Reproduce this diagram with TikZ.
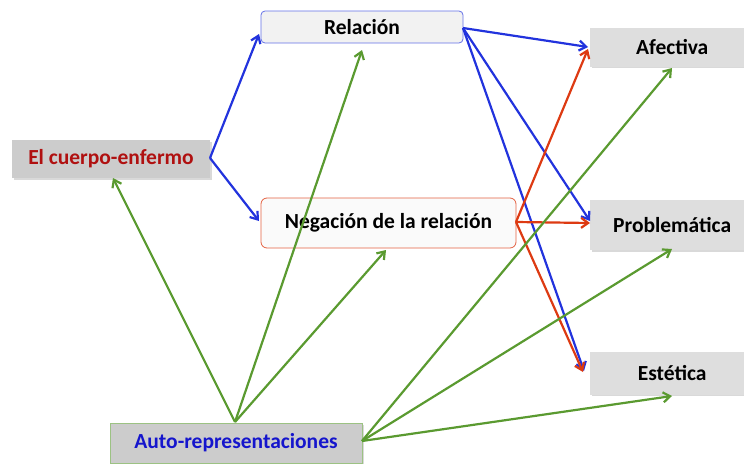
\documentclass[tikz,border=0pt]{standalone}
\usepackage{fontspec}
\setmainfont{Carlito}
\usetikzlibrary{arrows.meta,shadows}
\definecolor{bl}{HTML}{2233DD}
\definecolor{rd}{HTML}{DD3A12}
\definecolor{gr}{HTML}{5A9A30}
\definecolor{dred}{HTML}{B01010}
\definecolor{dblue}{HTML}{1515CC}
\tikzset{
  box/.style={minimum height=#1, inner sep=0pt, font=\fontsize{21.5}{24}\selectfont\bfseries},
  graybox/.style={fill=black!20, draw=none, drop shadow={shadow xshift=1.5pt,shadow yshift=-1.5pt,opacity=0.3}},
  lightbox/.style={fill=black!13, draw=none, drop shadow={shadow xshift=1.5pt,shadow yshift=-1.5pt,opacity=0.3}},
  arr/.style={-{Straight Barb[length=7pt,width=10pt]}, line width=2.2pt},
  blu/.style={arr, draw=bl},
  red/.style={arr, draw=rd},
  grn/.style={arr, draw=gr},
}
\begin{document}
\begin{tikzpicture}[x=1pt,y=1pt]
\useasboundingbox (0,0) rectangle (744,-463);
\node[box=38pt, graybox, minimum width=198pt, text=dred] (cue) at (111,-159) {El cuerpo-enfermo};
\node[box=32pt, minimum width=202pt, rounded corners=4pt, fill=black!5, draw=bl!70, line width=0.8pt] (rel) at (362,-27) {\raisebox{-2pt}{Relación}};
\node[box=50pt, minimum width=255pt, rounded corners=6pt, fill=black!2, draw=rd!80, line width=0.8pt] (neg) at (388.5,-223) {\raisebox{-2pt}{Negación de la relación}};
\node[box=39pt, lightbox, minimum width=164pt, anchor=west] (afe) at (590,-47) {Afectiva};
\node[box=50pt, lightbox, minimum width=164pt, anchor=west] (pro) at (590,-225) {Problemática};
\node[box=43pt, lightbox, minimum width=164pt, anchor=west] (est) at (590,-373) {\raisebox{-2pt}{Estética}};
\node[box=40pt, graybox, fill=black!20, draw=gr!60, line width=0.8pt, minimum width=252pt, text=dblue] (aut) at (236,-443) {\raisebox{-2pt}{Auto-representaciones}};
\coordinate (cueR) at (210,-158);
\coordinate (relR) at (463,-28);
\coordinate (negR) at (516,-222);
\coordinate (autT) at (235,-422);
\coordinate (autR) at (362,-441);
% blue
\draw[blu] (cueR) -- (259,-34);
\draw[blu] (cueR) -- (259,-221);
\draw[blu] (relR) -- (588,-47);
\draw[blu] (relR) -- (590,-221);
\draw[blu] (relR) -- (584,-371);
% red
\draw[red] (negR) -- (588,-49);
\draw[red] (negR) -- (590,-223);
\draw[red] (negR) -- (583,-372);
% green
\draw[grn] (autT) -- (113,-178);
\draw[grn] (autT) -- (362,-50);
\draw[grn] (autT) -- (386,-250);
\draw[grn] (autR) -- (672,-68);
\draw[grn] (autR) -- (672,-249);
\draw[grn] (autR) -- (672,-396);
\end{tikzpicture}
\end{document}
